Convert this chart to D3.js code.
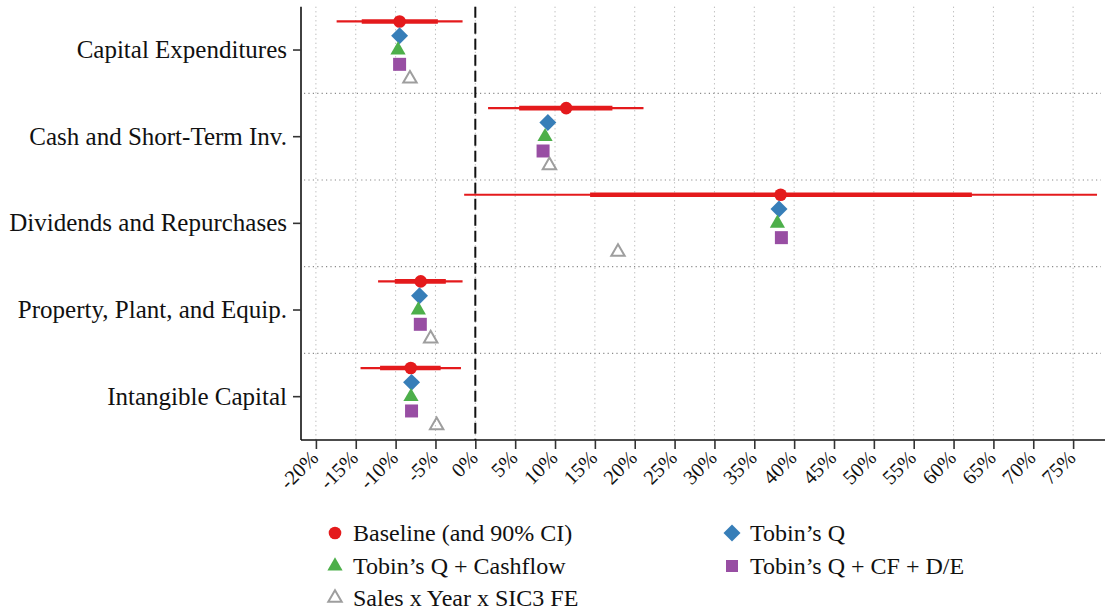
<!DOCTYPE html>
<html><head><meta charset="utf-8">
<script src="https://cdn.jsdelivr.net/npm/d3@7"></script>
<style>
html,body{margin:0;padding:0;background:#fff;}
svg{display:block;}
text{font-family:"Liberation Serif","Times New Roman",serif;fill:#111;}
</style></head>
<body>
<svg id="chart" width="1105" height="612"></svg>
<script>
const categories = ["Capital Expenditures","Cash and Short-Term Inv.","Dividends and Repurchases","Property, Plant, and Equip.","Intangible Capital"];
const baseline   = [-9.5, 11.4, 38.3, -6.85, -8.1];
const ci90Low    = [-17.4, 1.6, -1.4, -12.2, -14.4];
const ci90High   = [-1.6, 21.1, 78.0, -1.6, -1.8];
const ciInnerLow = [-14.25, 5.5, 14.4, -10.1, -11.95];
const ciInnerHigh= [-4.7, 17.2, 62.3, -3.7, -4.35];
const tobinQ     = [-9.5, 9.1, 38.1, -7.0, -8.0];
const tobinQCF   = [-9.7, 8.75, 37.9, -7.15, -8.07];
const tobinQCFDE = [-9.5, 8.5, 38.4, -6.9, -8.0];
const salesYearSIC = [-8.2, 9.3, 17.9, -5.6, -4.85];
const xTicks = [-20,-15,-10,-5,0,5,10,15,20,25,30,35,40,45,50,55,60,65,70,75];
const seriesNames = ["Baseline (and 90% CI)","Tobin’s Q","Tobin’s Q + Cashflow","Tobin’s Q + CF + D/E","Sales x Year x SIC3 FE"];

const C = {red:"#e41a1c", blue:"#377eb8", green:"#4daf4a", purple:"#984ea3", gray:"#9e9e9e"};
const svg = d3.select("#chart");
const L = 301, R = 1105, T = 6.7, B = 440;

const x = d3.scaleLinear().domain([-21.87, 79.0]).range([L, R]);
const y = d3.scaleBand().domain(categories).range([T, B]).padding(0);
const off = d3.scalePoint().domain(seriesNames).range([-28.6, 28.6]);
const cy = (c, s) => y(c) + y.bandwidth()/2 + off(s);

// grid
const g = svg.append("g");
g.selectAll(".vg").data(xTicks).join("line")
  .attr("x1", d=>x(d)).attr("x2", d=>x(d)).attr("y1", T).attr("y2", B)
  .attr("stroke","#b5b5b5").attr("stroke-width",1).attr("stroke-dasharray","1.2,3.3");
g.selectAll(".hg").data(categories.slice(1)).join("line")
  .attr("x1", L+3).attr("x2", R-4).attr("y1", d=>y(d)).attr("y2", d=>y(d))
  .attr("stroke","#8a8a8a").attr("stroke-width",1.2).attr("stroke-dasharray","1.2,3.2");

// zero line
g.append("line").attr("x1",x(0)).attr("x2",x(0)).attr("y1",T).attr("y2",B)
  .attr("stroke","#111").attr("stroke-width",2).attr("stroke-dasharray","11,5");

// axes
const xAxis = svg.append("g").attr("transform",`translate(0,${B})`)
  .call(d3.axisBottom(x).tickValues(xTicks).tickSize(9).tickFormat(d=>d+"%"));
xAxis.select(".domain").attr("stroke","#111").attr("stroke-width",1.6).attr("d",`M${L},0H${R}`);
xAxis.selectAll(".tick line").attr("stroke","#333").attr("stroke-width",1.6);
xAxis.selectAll(".tick text").attr("font-size",20.5).attr("fill","#111")
  .attr("text-anchor","end").attr("dy",null).attr("y",null)
  .attr("transform","translate(-7,9) rotate(-45)").attr("dominant-baseline","hanging");

const yAxis = svg.append("g").attr("transform",`translate(${L},0)`)
  .call(d3.axisLeft(y).tickSize(8).tickPadding(6));
yAxis.select(".domain").attr("stroke","#111").attr("stroke-width",1.6).attr("d",`M0,${T}V${B}`);
yAxis.selectAll(".tick line").attr("stroke","#333").attr("stroke-width",1.6);
yAxis.selectAll(".tick text").attr("font-size",25).attr("fill","#111");

// CI lines
const rows = categories.map((c,i)=>({c, b:baseline[i], lo:ci90Low[i], hi:ci90High[i], ilo:ciInnerLow[i], ihi:ciInnerHigh[i],
  q:tobinQ[i], qcf:tobinQCF[i], qde:tobinQCFDE[i], s:salesYearSIC[i]}));
const m = svg.append("g");
m.selectAll(".ci90").data(rows).join("line")
  .attr("x1",d=>x(d.lo)).attr("x2",d=>x(d.hi)).attr("y1",d=>cy(d.c,seriesNames[0])).attr("y2",d=>cy(d.c,seriesNames[0]))
  .attr("stroke",C.red).attr("stroke-width",2.2);
m.selectAll(".ciIn").data(rows).join("line")
  .attr("x1",d=>x(d.ilo)).attr("x2",d=>x(d.ihi)).attr("y1",d=>cy(d.c,seriesNames[0])).attr("y2",d=>cy(d.c,seriesNames[0]))
  .attr("stroke",C.red).attr("stroke-width",4.6);

const sym = {
  circle: d3.symbol().type(d3.symbolCircle).size(Math.PI*6.3*6.3),
  diamond: d3.symbol().type(d3.symbolSquare).size(12*12),
  tri: d3.symbol().type(d3.symbolTriangle).size(100),
  square: d3.symbol().type(d3.symbolSquare).size(13*13),
  hollow: d3.symbol().type(d3.symbolTriangle).size(78)
};
m.selectAll(".pb").data(rows).join("path").attr("d",sym.circle())
  .attr("transform",d=>`translate(${x(d.b)},${cy(d.c,seriesNames[0])})`).attr("fill",C.red);
m.selectAll(".pq").data(rows).join("path").attr("d",sym.diamond())
  .attr("transform",d=>`translate(${x(d.q)},${cy(d.c,seriesNames[1])}) rotate(45)`).attr("fill",C.blue);
m.selectAll(".pqcf").data(rows).join("path").attr("d",sym.tri())
  .attr("transform",d=>`translate(${x(d.qcf)},${cy(d.c,seriesNames[2])})`).attr("fill",C.green);
m.selectAll(".pqde").data(rows).join("path").attr("d",sym.square())
  .attr("transform",d=>`translate(${x(d.qde)},${cy(d.c,seriesNames[3])})`).attr("fill",C.purple);
m.selectAll(".ps").data(rows).join("path").attr("d",sym.hollow())
  .attr("transform",d=>`translate(${x(d.s)},${cy(d.c,seriesNames[4])})`).attr("fill","none")
  .attr("stroke",C.gray).attr("stroke-width",2);

// legend
const legendItems = [
  {name:seriesNames[0], col:0, row:0, s:"circle"},
  {name:seriesNames[1], col:1, row:0, s:"diamond"},
  {name:seriesNames[2], col:0, row:1, s:"tri"},
  {name:seriesNames[3], col:1, row:1, s:"square"},
  {name:seriesNames[4], col:0, row:2, s:"hollow"}
];
const colX = [335, 732], rowY = [533, 566, 598];
const lg = svg.append("g");
legendItems.forEach(it=>{
  const gx = colX[it.col], gy = rowY[it.row];
  const p = lg.append("path").attr("d", sym[it.s]());
  let tr = `translate(${gx},${gy})`;
  if (it.s==="diamond") tr += " rotate(45)";
  p.attr("transform", tr);
  if (it.s==="circle") p.attr("fill",C.red);
  if (it.s==="diamond") p.attr("fill",C.blue);
  if (it.s==="tri") p.attr("fill",C.green);
  if (it.s==="square") p.attr("fill",C.purple).attr("d", d3.symbol().type(d3.symbolSquare).size(144)());
  if (it.s==="hollow") p.attr("fill","none").attr("stroke",C.gray).attr("stroke-width",2);
  lg.append("text").attr("x", gx+18).attr("y", gy).attr("dy","0.35em")
    .attr("font-size",24).text(it.name);
});
</script>
</body></html>
